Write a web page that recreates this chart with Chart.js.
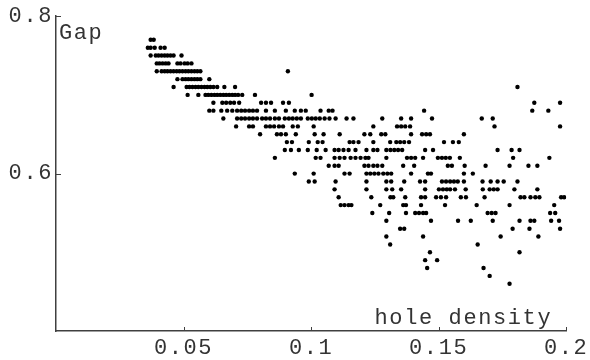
<!DOCTYPE html>
<html>
<head>
<meta charset="utf-8">
<script src="https://cdn.jsdelivr.net/npm/chart.js@4/dist/chart.umd.min.js"></script>
<style>
  html, body { margin: 0; padding: 0; background: #fff; }
  #wrap { width: 590px; height: 360px; }
</style>
</head>
<body>
<div id="wrap"><canvas id="gapChart" width="590" height="360"></canvas></div>
<script>
// gap values come in rows of 0.01; for each row the hole densities
const gapLevels = [0.77, 0.76, 0.75, 0.74, 0.73, 0.72, 0.71, 0.70, 0.69, 0.68, 0.67, 0.66, 0.65, 0.64,
  0.63, 0.62, 0.61, 0.60, 0.59, 0.58, 0.57, 0.56, 0.55, 0.54, 0.53, 0.52, 0.51, 0.50, 0.49, 0.48, 0.47, 0.46];
const densityByLevel = [
  [0.0371, 0.0383],
  [0.0360, 0.0371, 0.0387, 0.0410, 0.0426],
  [0.0371, 0.0391, 0.0402, 0.0414, 0.0426, 0.0437, 0.0449, 0.0461, 0.0492],
  [0.0395, 0.0406, 0.0418, 0.0430, 0.0441, 0.0476, 0.0488, 0.0504, 0.0516, 0.0531],
  [0.0395, 0.0414, 0.0426, 0.0437, 0.0449, 0.0461, 0.0473, 0.0484, 0.0496, 0.0508, 0.0519, 0.0531, 0.0543, 0.0554, 0.0566, 0.0909],
  [0.0476, 0.0496, 0.0508, 0.0519, 0.0531, 0.0543, 0.0554, 0.0566, 0.0601],
  [0.0461, 0.0512, 0.0523, 0.0535, 0.0547, 0.0558, 0.0570, 0.0582, 0.0593, 0.0605, 0.0617, 0.0632, 0.0660, 0.0702, 0.1809],
  [0.0516, 0.0558, 0.0586, 0.0597, 0.0609, 0.0621, 0.0632, 0.0644, 0.0656, 0.0667, 0.0679, 0.0691, 0.0702, 0.0714, 0.0730, 0.0780, 0.1002],
  [0.0617, 0.0652, 0.0667, 0.0683, 0.0698, 0.0718, 0.0804, 0.0823, 0.0843, 0.0890, 0.0913, 0.1875, 0.1976],
  [0.0601, 0.0617, 0.0648, 0.0671, 0.0691, 0.0710, 0.0726, 0.0741, 0.0757, 0.0772, 0.0788, 0.0823, 0.0858, 0.0901, 0.0936,
   0.0960, 0.0979, 0.1037, 0.1069, 0.1084, 0.1443, 0.1867, 0.1930],
  [0.0656, 0.0710, 0.0726, 0.0741, 0.0757, 0.0772, 0.0788, 0.0808, 0.0823, 0.0839, 0.0858, 0.0874, 0.0897, 0.0913, 0.0928,
   0.0944, 0.0960, 0.0987, 0.1003, 0.1018, 0.1034, 0.1053, 0.1072, 0.1096, 0.1139, 0.1166, 0.1279, 0.1353, 0.1392, 0.1474,
   0.1669, 0.1712],
  [0.0706, 0.0757, 0.0772, 0.0823, 0.0839, 0.0855, 0.0874, 0.0890, 0.0928, 0.0948, 0.1010, 0.1244, 0.1337, 0.1353, 0.1369,
   0.1388, 0.1719, 0.1976],
  [0.0800, 0.0866, 0.0882, 0.0901, 0.0940, 0.1014, 0.1049, 0.1112, 0.1209, 0.1232, 0.1275, 0.1291, 0.1392, 0.1435, 0.1451,
   0.1466, 0.1599],
  [0.0905, 0.0925, 0.0991, 0.1026, 0.1045, 0.1151, 0.1166, 0.1186, 0.1244, 0.1310, 0.1334, 0.1349, 0.1365, 0.1384, 0.1521,
   0.1556, 0.1579],
  [0.0897, 0.0921, 0.0952, 0.0987, 0.1022, 0.1057, 0.1092, 0.1108, 0.1127, 0.1147, 0.1174, 0.1217, 0.1244, 0.1260, 0.1295,
   0.1311, 0.1326, 0.1341, 0.1357, 0.1447, 0.1478, 0.1731, 0.1786, 0.1817],
  [0.0858, 0.1018, 0.1037, 0.1092, 0.1112, 0.1131, 0.1155, 0.1174, 0.1194, 0.1213, 0.1225, 0.1295, 0.1376, 0.1392, 0.1408,
   0.1439, 0.1497, 0.1513, 0.1528, 0.1544, 0.1583, 0.1792, 0.1934],
  [0.1069, 0.1092, 0.1108, 0.1209, 0.1225, 0.1244, 0.1260, 0.1279, 0.1361, 0.1404, 0.1536, 0.1552, 0.1602, 0.1684, 0.1778,
   0.1852, 0.1887],
  [0.0936, 0.1010, 0.1131, 0.1151, 0.1217, 0.1232, 0.1248, 0.1264, 0.1283, 0.1299, 0.1314, 0.1392, 0.1458, 0.1470, 0.1599, 0.1634],
  [0.0991, 0.1014, 0.1096, 0.1217, 0.1295, 0.1314, 0.1365, 0.1427, 0.1447, 0.1513, 0.1529, 0.1545, 0.1560, 0.1575, 0.1599,
   0.1672, 0.1704, 0.1731, 0.1755, 0.1809],
  [0.1092, 0.1217, 0.1295, 0.1318, 0.1353, 0.1447, 0.1501, 0.1517, 0.1532, 0.1545, 0.1564, 0.1606, 0.1673, 0.1700, 0.1716,
   0.1731, 0.1797, 0.1887],
  [0.1108, 0.1236, 0.1311, 0.1322, 0.1369, 0.1431, 0.1447, 0.1490, 0.1509, 0.1529, 0.1587, 0.1607, 0.1680, 0.1821, 0.1836,
   0.1860, 0.1879, 0.1895, 0.1980, 0.1992],
  [0.1116, 0.1131, 0.1147, 0.1158, 0.1271, 0.1361, 0.1372, 0.1431, 0.1525, 0.1649, 0.1778, 0.1953],
  [0.1240, 0.1306, 0.1372, 0.1408, 0.1423, 0.1439, 0.1451, 0.1692, 0.1708, 0.1723, 0.1937, 0.1957],
  [0.1295, 0.1470, 0.1576, 0.1626, 0.1712, 0.1817, 0.1860, 0.1875, 0.1941, 0.1972],
  [0.1349, 0.1365, 0.1790, 0.1856, 0.1976],
  [0.1295, 0.1439, 0.1743, 0.1891],
  [0.1310, 0.1653],
  [0.1466, 0.1817],
  [0.1447, 0.1494],
  [0.1455, 0.1676],
  [0.1700],
  [0.1778]
];
const xTicks = [0.05, 0.1, 0.15, 0.2];
const yTicks = [0.6, 0.8];
const xLabel = 'hole density';
const yLabel = 'Gap';

const points = [];
gapLevels.forEach((g, i) => {
  densityByLevel[i].forEach(d => points.push({ x: d, y: g }));
});

const FONT = '"Liberation Mono", "DejaVu Sans Mono", monospace';
const AXIS = '#404040';
const TEXT = '#333';

// inward tick marks + the two axis labels, in the style of the original plot
const decorations = {
  id: 'decorations',
  beforeDraw(chart) {
    chart.ctx.letterSpacing = '1.6px';
  },
  afterDraw(chart) {
    const { ctx, chartArea, scales } = chart;
    ctx.save();
    ctx.strokeStyle = AXIS;
    ctx.lineWidth = 1;
    ctx.beginPath();
    xTicks.forEach(v => {
      const px = Math.round(scales.x.getPixelForValue(v)) + 0.5;
      ctx.moveTo(px, chartArea.bottom);
      ctx.lineTo(px, chartArea.bottom - 4);
    });
    yTicks.forEach(v => {
      const py = Math.round(scales.y.getPixelForValue(v)) + 0.5;
      ctx.moveTo(chartArea.left, py);
      ctx.lineTo(chartArea.left + 5, py);
    });
    ctx.stroke();

    ctx.fillStyle = TEXT;
    ctx.font = '22px ' + FONT;
    ctx.letterSpacing = '1.6px';
    ctx.textBaseline = 'alphabetic';
    ctx.textAlign = 'left';
    ctx.fillText(yLabel, chartArea.left + 3, chartArea.top + 23);
    ctx.textAlign = 'right';
    ctx.fillText(xLabel, chartArea.right - 14, chartArea.bottom - 7);
    ctx.restore();
  }
};

new Chart(document.getElementById('gapChart'), {
  type: 'scatter',
  data: {
    datasets: [{
      data: points,
      backgroundColor: '#000',
      borderColor: '#000',
      pointRadius: 2.2,
      pointBorderWidth: 0
    }]
  },
  options: {
    responsive: false,
    animation: false,
    events: [],
    layout: { padding: { top: 14, right: 21, left: 0, bottom: 0 } },
    plugins: {
      legend: { display: false },
      tooltip: { enabled: false }
    },
    scales: {
      x: {
        type: 'linear',
        min: 0,
        max: 0.2,
        afterBuildTicks: s => { s.ticks = xTicks.map(v => ({ value: v })); },
        afterFit: s => { s.height = 29; },
        grid: { drawOnChartArea: false, drawTicks: false },
        border: { display: true, color: AXIS, width: 1.5 },
        ticks: {
          autoSkip: false,
          maxRotation: 0,
          padding: 4,
          color: TEXT,
          font: { family: FONT, size: 22 },
          callback: v => String(v)
        }
      },
      y: {
        type: 'linear',
        min: 0.4,
        max: 0.8,
        afterBuildTicks: s => { s.ticks = yTicks.map(v => ({ value: v })); },
        afterFit: s => { s.width = 56; },
        grid: { drawOnChartArea: false, drawTicks: false },
        border: { display: true, color: AXIS, width: 1.5 },
        ticks: {
          autoSkip: false,
          padding: 3,
          color: TEXT,
          font: { family: FONT, size: 22 },
          callback: v => String(v)
        }
      }
    }
  },
  plugins: [decorations]
});
</script>
</body>
</html>
